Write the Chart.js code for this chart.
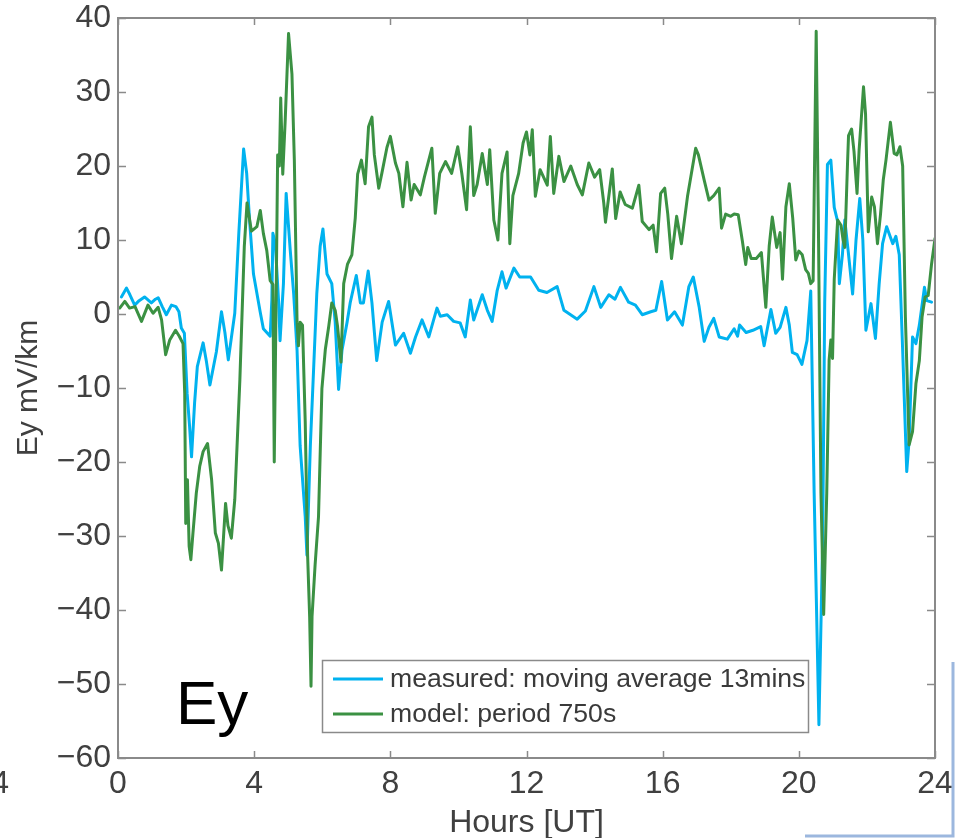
<!DOCTYPE html>
<html>
<head>
<meta charset="utf-8">
<title>Ey</title>
<script src="https://cdn.jsdelivr.net/npm/chart.js@4.4.1/dist/chart.umd.min.js"></script>
<style>
  html, body { margin: 0; padding: 0; background: #ffffff; }
  #eyChart { display: block; }
</style>
</head>
<body>
<canvas id="eyChart" width="955" height="838"></canvas>
<script>
// Heures (UT) et valeurs Ey (mV/km)
const measuredHours = [
  0.1, 0.25, 0.35, 0.49, 0.62, 0.78, 0.98, 1.1, 1.18, 1.3, 1.42, 1.57, 1.7, 1.79, 1.86, 1.95,
  2.03, 2.1, 2.16, 2.25, 2.33, 2.5, 2.6, 2.7, 2.89, 3.04, 3.14, 3.24, 3.43, 3.55, 3.69, 3.78, 3.86, 3.98,
  4.18, 4.27, 4.47, 4.52, 4.55, 4.62, 4.72, 4.76, 4.86, 4.94, 5.06, 5.16, 5.26, 5.35, 5.5, 5.55, 5.65, 5.74, 5.84, 5.94,
  6.02, 6.14, 6.28, 6.38, 6.48, 6.58, 6.73, 6.82, 7.0, 7.12, 7.21, 7.35, 7.46, 7.6, 7.76, 7.95,
  8.15, 8.39, 8.59, 8.74, 8.93, 9.13, 9.37, 9.47, 9.67, 9.86, 10.05, 10.2, 10.35, 10.45, 10.7, 10.85, 10.99, 11.14, 11.28, 11.4, 11.63, 11.8,
  12.12, 12.36, 12.6, 12.9, 13.1, 13.49, 13.73, 13.98, 14.18, 14.42, 14.6, 14.76, 15.0, 15.2, 15.4, 15.65, 15.8, 15.97,
  16.14, 16.35, 16.58, 16.77, 16.9, 17.07, 17.22, 17.36, 17.5, 17.66, 17.9, 18.1, 18.2, 18.26, 18.45, 18.65, 18.88, 18.98, 19.18, 19.32, 19.45, 19.62, 19.72, 19.81, 19.95,
  20.09, 20.24, 20.35, 20.45, 20.59, 20.7, 20.76, 20.84, 20.94, 21.04, 21.14, 21.19, 21.28, 21.35, 21.45, 21.58, 21.68, 21.79, 21.88, 21.97,
  22.12, 22.25, 22.36, 22.46, 22.58, 22.68, 22.76, 22.85, 22.95, 23.05, 23.17, 23.24, 23.34, 23.44, 23.54, 23.69, 23.76, 23.9
];
const measuredEy = [
  2.3, 3.5, 2.6, 1.2, 1.8, 2.3, 1.5, 2.0, 2.2, 1.0, -0.1, 1.2, 1.0, 0.3, -1.9, -2.6,
  -10.7, -15, -19.3, -12, -7.1, -3.9, -6.5, -9.6, -5.1, 0.3, -2.5, -6.2, 0.1, 11, 22.3, 19, 13, 5.4,
  0.2, -2.0, -3.0, 2, 10.9, 9.6, 1.5, -3.6, 4.1, 16.3, 8.6, 2.8, -4.9, -17.8, -27.4, -32.6, -17.8, -8.1, 2.8, 9.2,
  11.5, 5.4, 4.1, -1.1, -10.2, -4.9, -1.1, 1.5, 5.2, 1.5, 1.5, 5.8, 1.5, -6.3, -1.1, 1.7,
  -4.2, -2.6, -5.3, -3.1, -0.8, -3.1, 0.8, -0.3, -0.1, -1.0, -1.2, -3.1, 1.9, -0.8, 2.6, 0.5, -1.0, 3.2, 5.7, 3.5, 6.2, 5.0,
  5.0, 3.2, 2.9, 3.7, 0.5, -0.7, 0.4, 3.7, 0.9, 2.6, 2.0, 3.6, 1.6, 1.2, -0.1, 0.3, 0.5, 4.4,
  -0.8, 0.3, -1.5, 3.7, 5.0, 1.0, -3.7, -1.8, -0.6, -3.1, -3.4, -2.0, -3.0, -1.5, -2.5, -2.2, -1.7, -4.3, 0.6, -2.6, -1.8, 0.9, -1.5, -5.2, -5.5,
  -6.8, -3.6, 3.1, -24.2, -55.5, -30.6, 1.5, 20.2, 20.8, 14.4, 12.5, 4.1, 8.0, 12.7, 8.5, 2.7, 10, 15.6, 10, -2.2,
  1.4, -3.3, 4.1, 9.5, 11.8, 10.5, 9.5, 10.5, 8.0, -4.9, -21.3, -17, -3.1, -4.0, -1.5, 3.6, 1.8, 1.6
];

const modelHours = [
  0, 0.05, 0.2, 0.34, 0.5, 0.69, 0.88, 1.03, 1.18, 1.28, 1.4, 1.52, 1.69, 1.8, 1.91, 1.96, 1.99,
  2.04, 2.09, 2.14, 2.2, 2.3, 2.4, 2.5, 2.63, 2.75, 2.86, 2.95, 3.04, 3.16, 3.23, 3.33, 3.43, 3.58, 3.71, 3.79, 3.92,
  4.08, 4.18, 4.27, 4.37, 4.47, 4.55, 4.59, 4.65, 4.69, 4.74, 4.78, 4.84, 4.91, 5.01, 5.11, 5.18, 5.26, 5.30, 5.35, 5.42, 5.5, 5.57, 5.63, 5.67, 5.70, 5.79, 5.89, 5.99,
  6.09, 6.19, 6.28, 6.38, 6.45, 6.55, 6.63, 6.74, 6.87, 6.97, 7.04, 7.15, 7.26, 7.36, 7.46, 7.53, 7.66, 7.75, 7.9,
  8.0, 8.15, 8.25, 8.37, 8.49, 8.61, 8.7, 8.88, 9.0, 9.22, 9.32, 9.45, 9.62, 9.8, 9.98, 10.1, 10.24, 10.35, 10.45, 10.55, 10.7, 10.85, 10.92, 11.04, 11.16, 11.28, 11.43, 11.51, 11.6, 11.77, 11.9,
  12.0, 12.1, 12.17, 12.26, 12.4, 12.61, 12.7, 12.8, 12.95, 13.1, 13.3, 13.49, 13.64, 13.83, 14.0, 14.15, 14.27, 14.32, 14.52, 14.62, 14.75, 14.9, 15.11, 15.3, 15.4, 15.6, 15.72, 15.82, 15.94,
  16.06, 16.15, 16.26, 16.41, 16.55, 16.73, 16.97, 17.05, 17.22, 17.36, 17.5, 17.66, 17.73, 17.85, 18.0, 18.1, 18.22, 18.34, 18.44, 18.5, 18.6, 18.75, 18.9, 19.03, 19.13, 19.22, 19.35, 19.45, 19.52, 19.62, 19.72, 19.82, 19.91,
  20.0, 20.1, 20.2, 20.28, 20.35, 20.42, 20.51, 20.57, 20.65, 20.73, 20.82, 20.89, 20.94, 20.99, 21.04, 21.14, 21.24, 21.3, 21.35, 21.43, 21.46, 21.55, 21.62, 21.71, 21.77, 21.9, 21.96,
  22.04, 22.14, 22.22, 22.31, 22.4, 22.48, 22.56, 22.69, 22.8, 22.88, 22.97, 23.05, 23.13, 23.24, 23.34, 23.44, 23.54, 23.62, 23.71, 23.8, 23.9, 24.0
];
const modelEy = [
  0.8, 0.8, 1.7, 0.8, 1.0, -1.0, 1.2, 0.1, 0.9, -0.8, -5.5, -3.5, -2.2, -3.0, -4.0, -10.7, -28.3,
  -22.4, -31.4, -33.2, -29.7, -24.2, -20.6, -18.6, -17.5, -22.4, -29.6, -31, -34.6, -25.6, -28.6, -30.3, -25.1, -8.9, 9.1, 15.0, 11.2,
  11.8, 14.0, 10.9, 8.6, 4.5, 4.0, -20.0, 4.1, 21.5, 20, 29.2, 18.9, 26, 37.9, 32.4, 20.8, -1.1, -4.3, -1.1, -1.5, -14.6, -32.6, -40.9, -50.3, -40.9, -33.9, -27.4, -10.1,
  -4.8, -1.7, 1.5, 0.5, -1.7, -6.5, 4.1, 6.7, 8.0, 13.0, 18.9, 20.8, 17.6, 25.3, 26.6, 21.5, 17.0, 19, 22.5,
  24.0, 20.4, 19, 14.5, 20.5, 15.4, 17.5, 16.1, 18.5, 22.4, 13.6, 19, 20.6, 19, 22.6, 19, 14.1, 25.3, 16, 17.5, 21.7, 17.5, 22.2, 12.7, 10.0, 19.0, 21.9, 9.5, 16, 19, 23.1,
  24.6, 21.5, 24.9, 15.9, 19.5, 17.4, 24.0, 16.3, 21.3, 17.9, 20, 17.5, 16.1, 20.4, 18.5, 19.5, 15.0, 12.4, 19.6, 12.9, 16.5, 14.8, 14.3, 17.4, 12.5, 11.4, 12, 8.4, 16.3,
  17.0, 13.5, 7.5, 13.2, 9.5, 15.9, 22.4, 21.5, 18.1, 15.4, 16, 17.0, 11.6, 13.5, 13.2, 13.5, 13.4, 9.9, 6.7, 9, 7.5, 7.5, 8.3, 0.9, 9.2, 13.1, 9, 11, 4.7, 14.5, 17.6, 13, 7.3,
  8.5, 8, 6.0, 5.5, 4.1, 4.5, 38.2, 14.4, -24.2, -40.6, -24.2, -6.2, -3.5, -6, 4.7, 12.7, 12, 10, 9, 20.3, 24.1, 25.0, 22, 16.3, 22.1, 30.7, 27,
  11.1, 15.8, 14.5, 9.5, 13.5, 18.1, 20.8, 25.9, 21.7, 21.5, 22.6, 20, -0.4, -17.7, -15.9, -9.4, -6.3, -0.4, 2.3, 2.5, 6.8, 10.2
];

// Graduations des axes
const xTicks = [0, 4, 8, 12, 16, 20, 24];
const yTicks = [-60, -50, -40, -30, -20, -10, 0, 10, 20, 30, 40];

const seriesLabels = ['measured: moving average 13mins', 'model: period 750s'];
const seriesColors = ['#00b2ef', '#3b9143'];

function toPoints(hours, values) {
    return hours.map((h, i) => ({ x: h, y: values[i] }));
}

function minusSign(v) {
    return String(v).replace('-', '\u2212');
}

// Cadre, petites graduations vers l'intérieur, légende et annotations
var framePlugin = {
    id: 'frame',
    afterDatasetsDraw(chart) {
        var ctx = chart.ctx;
        var a = chart.chartArea;
        var xs = chart.scales.x;
        var ys = chart.scales.y;
        ctx.save();

        ctx.strokeStyle = '#8a8a8a';
        ctx.lineWidth = 2;
        ctx.strokeRect(a.left, a.top, a.right - a.left, a.bottom - a.top);

        ctx.lineWidth = 1.5;
        ctx.beginPath();
        yTicks.forEach(function(v) {
            var py = Math.round(ys.getPixelForValue(v)) + 0.5;
            ctx.moveTo(a.left, py); ctx.lineTo(a.left + 8, py);
            ctx.moveTo(a.right, py); ctx.lineTo(a.right - 8, py);
        });
        xTicks.forEach(function(v) {
            var px = Math.round(xs.getPixelForValue(v)) + 0.5;
            ctx.moveTo(px, a.bottom); ctx.lineTo(px, a.bottom - 7);
            ctx.moveTo(px, a.top); ctx.lineTo(px, a.top + 7);
        });
        ctx.stroke();

        // Légende
        var lx = 322, ly = 660, lw = 486, lh = 72;
        ctx.fillStyle = '#ffffff';
        ctx.fillRect(lx, ly, lw, lh);
        ctx.strokeStyle = '#8a8a8a';
        ctx.lineWidth = 1.5;
        ctx.strokeRect(lx + 0.5, ly + 0.5, lw, lh);
        ctx.font = '26.6px "Liberation Sans", Arial, sans-serif';
        ctx.textBaseline = 'middle';
        ctx.textAlign = 'left';
        chart.data.datasets.forEach(function(ds, i) {
            var rowY = ly + 19 + i * 35;
            ctx.strokeStyle = ds.borderColor;
            ctx.lineWidth = 3;
            ctx.beginPath();
            ctx.moveTo(lx + 11, rowY); ctx.lineTo(lx + 61, rowY);
            ctx.stroke();
            ctx.fillStyle = '#3a3a3a';
            ctx.fillText(ds.label, lx + 68, rowY + 1);
        });

        // Nom du panneau
        ctx.fillStyle = '#000000';
        ctx.font = '62px "Liberation Sans", Arial, sans-serif';
        ctx.textBaseline = 'alphabetic';
        ctx.fillText('Ey', 176, 724);
        ctx.restore();
    },
    afterDraw(chart) {
        var ctx = chart.ctx;
        ctx.save();
        // Restes des panneaux voisins
        ctx.fillStyle = '#404040';
        ctx.font = '32px "Liberation Sans", Arial, sans-serif';
        ctx.textAlign = 'right';
        ctx.textBaseline = 'middle';
        ctx.fillText('24', 9, 784);
        ctx.strokeStyle = '#9cb7de';
        ctx.lineWidth = 3;
        ctx.beginPath();
        ctx.moveTo(953, 662); ctx.lineTo(953, 836); ctx.lineTo(805, 836);
        ctx.stroke();
        ctx.restore();
    }
};

document.addEventListener('DOMContentLoaded', function() {
    var ctx = document.getElementById('eyChart').getContext('2d');
    var tickFont = { family: '"Liberation Sans", Arial, sans-serif', size: 32, lineHeight: 1 };

    new Chart(ctx, {
        type: 'line',
        data: {
            datasets: [{
                label: seriesLabels[0],
                data: toPoints(measuredHours, measuredEy),
                borderColor: seriesColors[0],
                borderWidth: 3,
                order: 1
            }, {
                label: seriesLabels[1],
                data: toPoints(modelHours, modelEy),
                borderColor: seriesColors[1],
                borderWidth: 3,
                order: 0
            }]
        },
        options: {
            responsive: false,
            animation: false,
            devicePixelRatio: 1,
            layout: { padding: { left: 0, right: 20, top: 18, bottom: 0 } },
            elements: {
                point: { radius: 0 },
                line: { tension: 0, borderJoinStyle: 'round', borderCapStyle: 'round', fill: false }
            },
            plugins: {
                legend: { display: false },
                tooltip: { enabled: false }
            },
            scales: {
                x: {
                    type: 'linear',
                    min: xTicks[0],
                    max: xTicks[xTicks.length - 1],
                    afterBuildTicks: function(scale) {
                        scale.ticks = xTicks.map(v => ({ value: v }));
                    },
                    afterFit: function(scale) {
                        scale.height = 80;
                        scale.paddingLeft = 0;
                        scale.paddingRight = 0;
                    },
                    grid: { display: false, drawTicks: false },
                    border: { display: false },
                    ticks: {
                        color: '#404040',
                        font: tickFont,
                        padding: 10,
                        maxRotation: 0,
                        callback: v => minusSign(v)
                    },
                    title: {
                        display: true,
                        text: 'Hours [UT]',
                        color: '#404040',
                        font: { family: '"Liberation Sans", Arial, sans-serif', size: 32 },
                        padding: { top: 0, bottom: -4 }
                    }
                },
                y: {
                    type: 'linear',
                    min: yTicks[0],
                    max: yTicks[yTicks.length - 1],
                    afterBuildTicks: function(scale) {
                        scale.ticks = yTicks.map(v => ({ value: v }));
                    },
                    afterFit: function(scale) {
                        scale.width = 118;
                        scale.paddingTop = 0;
                        scale.paddingBottom = 0;
                    },
                    grid: { display: false, drawTicks: false },
                    border: { display: false },
                    ticks: {
                        color: '#404040',
                        font: tickFont,
                        padding: 7,
                        callback: v => minusSign(v)
                    },
                    title: {
                        display: true,
                        text: 'Ey mV/km',
                        color: '#404040',
                        font: { family: '"Liberation Sans", Arial, sans-serif', size: 30 },
                        padding: { top: 11, bottom: 0 }
                    }
                }
            }
        },
        plugins: [framePlugin]
    });
});
</script>
</body>
</html>
